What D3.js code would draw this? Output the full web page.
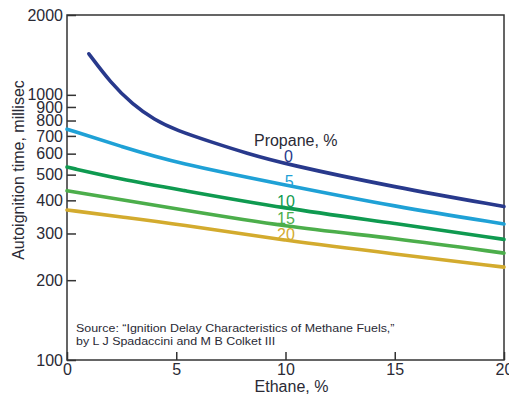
<!DOCTYPE html>
<html>
<head>
<script src="https://d3js.org/d3.v7.min.js"></script>
<style>
  body { margin: 0; background: #fff; }
  text { font-family: "Liberation Sans", Arial, sans-serif; }
</style>
</head>
<body>
<div id="Chart"></div>
<script>

// data
var propane = ["0", "5", "10", "15", "20"];
var colors = ["#28398c", "#1fa1d6", "#0f9a50", "#4cae4b", "#d3ab2e"];
var ethane0 = [1, 2, 3, 4, 5, 6.7, 8.2, 10, 15, 20];
var delay0 = [1428, 1110, 920, 805, 735, 660, 603, 548, 448, 379];
var ethane = [0, 2.5, 5, 10, 15, 20];
var delay5 = [742, 638, 553, 457, 379, 326];
var delay10 = [534, 480, 441, 372, 328, 285];
var delay15 = [435, 402, 372, 318, 288, 253];
var delay20 = [368, 346, 326, 282, 251, 224];
var yTicks = [100, 200, 300, 400, 500, 600, 700, 800, 900, 1000, 2000];
var xTicks = [0, 5, 10, 15, 20];

var series = [
  {x: ethane0, y: delay0},
  {x: ethane, y: delay5},
  {x: ethane, y: delay10},
  {x: ethane, y: delay15},
  {x: ethane, y: delay20}
];

var margin = {top: 15, right: 5, bottom: 36, left: 67},
    width = 504 - margin.left,
    height = 360 - margin.top;

var svg = d3.select("#Chart")
  .append("svg")
    .attr("width", 509)
    .attr("height", 396)
  .append("g")
    .attr("transform", "translate(" + margin.left + "," + margin.top + ")");

var x = d3.scaleLinear().domain([0, 20]).range([0, width]);
var y = d3.scaleLog().domain([100, 2000]).range([height, 0]);

// y axis, ticks point inward
var yAxis = svg.append("g")
  .call(d3.axisLeft(y).tickValues(yTicks).tickFormat(d3.format("d"))
    .tickSize(-9).tickPadding(4));
yAxis.select(".domain").remove();
yAxis.selectAll("line").attr("stroke", "#333").attr("stroke-width", 1.5);
yAxis.selectAll("text")
  .attr("fill", "#2a2a35")
  .style("font-size", "16px");

var xAxis = svg.append("g")
  .attr("transform", "translate(0," + height + ")")
  .call(d3.axisBottom(x).tickValues(xTicks).tickSize(-8).tickPadding(4));
xAxis.select(".domain").remove();
xAxis.selectAll("line").attr("stroke", "#333").attr("stroke-width", 1.5);
xAxis.selectAll("text")
  .attr("fill", "#2a2a35")
  .style("font-size", "16px");

// frame
svg.append("rect")
  .attr("width", width)
  .attr("height", height)
  .attr("fill", "none")
  .attr("stroke", "#333")
  .attr("stroke-width", 1.5);

var line = d3.line()
  .x(function(d) { return x(d[0]); })
  .y(function(d) { return y(d[1]); })
  .curve(d3.curveBasis);

svg.selectAll(".curve")
  .data(series)
  .enter()
  .append("path")
    .attr("class", "curve")
    .attr("fill", "none")
    .attr("stroke", function(d, i) { return colors[i]; })
    .attr("stroke-width", 3.6)
    .attr("stroke-linecap", "round")
    .attr("d", function(d) { return line(d.x.map(function(v, j) { return [v, d.y[j]]; })); });

// in-plot labels
var labelX = [10.13, 10.17, 10.02, 10.02, 10.02];
var labelY = [560, 448, 376, 326, 283];

svg.append("text")
  .attr("x", x(10.47))
  .attr("y", 131)
  .attr("text-anchor", "middle")
  .attr("fill", "#2a2a35")
  .style("font-size", "16px")
  .text("Propane, %");

svg.selectAll(".lab")
  .data(propane)
  .enter()
  .append("text")
    .attr("class", "lab")
    .attr("x", function(d, i) { return x(labelX[i]); })
    .attr("y", function(d, i) { return y(labelY[i]); })
    .attr("text-anchor", "middle")
    .attr("fill", function(d, i) { return colors[i]; })
    .style("font-size", "16px")
    .text(function(d) { return d; });

// axis titles
svg.append("text")
  .attr("x", width / 2 + 6)
  .attr("y", height + 32)
  .attr("text-anchor", "middle")
  .attr("fill", "#2a2a35")
  .style("font-size", "16px")
  .text("Ethane, %");

svg.append("text")
  .attr("transform", "translate(-43,155) rotate(-90)")
  .attr("text-anchor", "middle")
  .attr("fill", "#2a2a35")
  .style("font-size", "16px")
  .text("Autoignition time, millisec");

// source note (set wide, as in the original)
var note = svg.append("g")
  .attr("transform", "translate(9,0) scale(1.185,1)");
note.append("text")
  .attr("y", 317)
  .attr("fill", "#2a2a35")
  .style("font-size", "10.5px")
  .text("Source: \u201CIgnition Delay Characteristics of Methane Fuels,\u201D");
note.append("text")
  .attr("y", 330)
  .attr("fill", "#2a2a35")
  .style("font-size", "10.5px")
  .text("by L J Spadaccini and M B Colket III");

</script>
</body>
</html>
